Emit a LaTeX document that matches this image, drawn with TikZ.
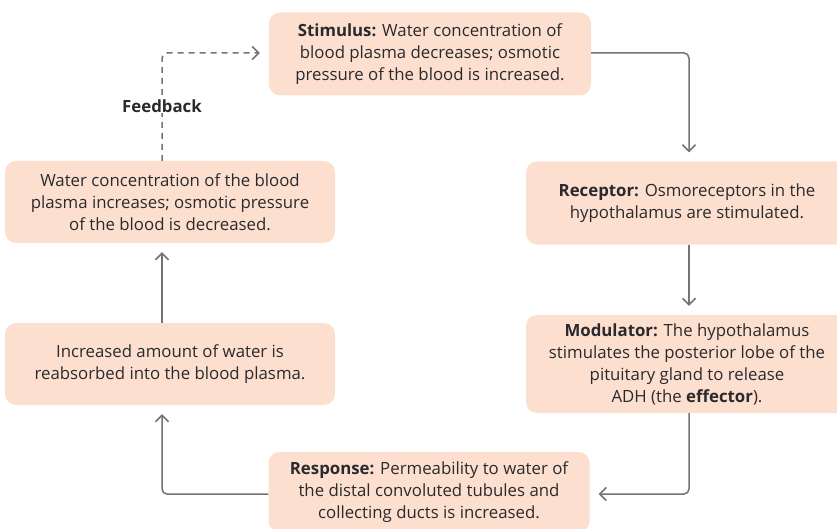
\documentclass[tikz,border=0pt]{standalone}
\usepackage{fontspec}
\setmainfont{Open Sans}
\usetikzlibrary{arrows.meta}
\definecolor{boxfill}{HTML}{FDDFCF}
\definecolor{linec}{HTML}{737373}
\definecolor{textc}{HTML}{2A2A2E}
\begin{document}
\begin{tikzpicture}[x=1pt,y=-1pt,
  box/.style={fill=boxfill, rounded corners=11pt, align=center, text=textc,
    font=\fontsize{16.8}{22}\selectfont, inner sep=0pt, minimum width=322pt},
  conn/.style={draw=linec, line width=1.5pt, rounded corners=5pt,
    -{Straight Barb[length=6.5pt,width=13pt,line width=1.5pt]}, shorten >=9pt},
  fb/.style={conn, dash pattern=on 6pt off 5pt}]
\useasboundingbox (0,0) rectangle (837,529);
\node[box, minimum height=83pt] (stim) at (430,54)
  {\textbf{Stimulus:} Water concentration of\\blood plasma decreases; osmotic\\pressure of the blood is increased.};
\node[box, minimum height=83pt] (rec) at (687,203)
  {\textbf{Receptor:} Osmoreceptors in the\\hypothalamus are stimulated.};
\node[box, minimum height=98pt] (mod) at (687,364)
  {\textbf{Modulator:} The hypothalamus\\stimulates the posterior lobe of the\\pituitary gland to release\\ADH (the \textbf{effector}).};
\node[box, minimum height=80pt, minimum width=321pt] (resp) at (429,492)
  {\textbf{Response:} Permeability to water of\\the distal convoluted tubules and\\collecting ducts is increased.};
\node[box, minimum height=82pt, minimum width=330pt] (lbot) at (170,364)
  {Increased amount of water is\\reabsorbed into the blood plasma.};
\node[box, minimum height=82pt, minimum width=330pt] (ltop) at (170,202)
  {Water concentration of the blood\\plasma increases; osmotic pressure\\of the blood is decreased.};
\coordinate (c1) at (689,53);
\coordinate (c2) at (689,494);
\coordinate (c3) at (162,494);
\coordinate (c4) at (162,53);
\draw[conn] (stim.east |- c1) -- (c1) -- (c1 |- rec.north);
\draw[conn] (rec.south -| c1) -- (mod.north -| c1);
\draw[conn] (mod.south -| c1) -- (c2) -- (c2 -| resp.east);
\draw[conn] (resp.west |- c3) -- (c3) -- (c3 |- lbot.south);
\draw[conn] (lbot.north -| c3) -- (ltop.south -| c3);
\draw[fb] (ltop.north -| c4) -- (c4) -- (c4 -| stim.west);
\node[fill=white, inner sep=1pt, text=textc, font=\fontsize{16.8}{20}\selectfont\bfseries] (fbl) at (162,106) {Feedback};
\end{tikzpicture}
\end{document}
